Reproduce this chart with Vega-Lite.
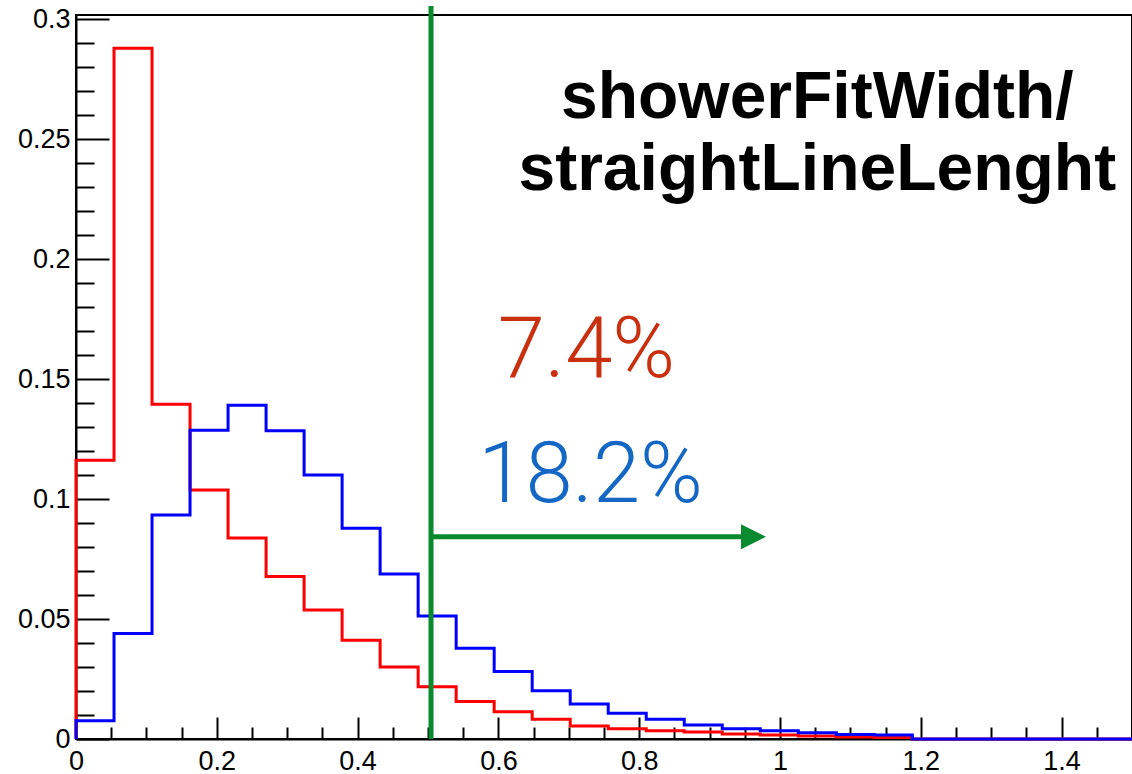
{
  "$schema": "https://vega.github.io/schema/vega-lite/v6.json",
  "width": 1056,
  "height": 724,
  "autosize": "none",
  "padding": {"left": 76, "top": 15, "right": 0, "bottom": 35},
  "background": "white",
  "view": {"stroke": "black", "strokeWidth": 2},
  "datasets": {
    "red": [
      {"i": 0, "x": 0, "y": 0},
      {"i": 1, "x": 0, "y": 0.1162},
      {"i": 2, "x": 0.054, "y": 0.2878},
      {"i": 3, "x": 0.108, "y": 0.1395},
      {"i": 4, "x": 0.162, "y": 0.1038},
      {"i": 5, "x": 0.216, "y": 0.0838},
      {"i": 6, "x": 0.27, "y": 0.0677},
      {"i": 7, "x": 0.324, "y": 0.0538},
      {"i": 8, "x": 0.378, "y": 0.0412},
      {"i": 9, "x": 0.432, "y": 0.0300},
      {"i": 10, "x": 0.486, "y": 0.0218},
      {"i": 11, "x": 0.54, "y": 0.0156},
      {"i": 12, "x": 0.594, "y": 0.0114},
      {"i": 13, "x": 0.648, "y": 0.0082},
      {"i": 14, "x": 0.702, "y": 0.0054},
      {"i": 15, "x": 0.756, "y": 0.0043},
      {"i": 16, "x": 0.81, "y": 0.0034},
      {"i": 17, "x": 0.864, "y": 0.0029},
      {"i": 18, "x": 0.918, "y": 0.0021},
      {"i": 19, "x": 0.972, "y": 0.0017},
      {"i": 20, "x": 1.026, "y": 0.0012},
      {"i": 21, "x": 1.08, "y": 0.0008},
      {"i": 22, "x": 1.134, "y": 0.0006},
      {"i": 23, "x": 1.188, "y": 0},
      {"i": 24, "x": 1.5, "y": 0}
    ],
    "blue": [
      {"i": 0, "x": 0, "y": 0},
      {"i": 1, "x": 0, "y": 0.0076},
      {"i": 2, "x": 0.054, "y": 0.0440},
      {"i": 3, "x": 0.108, "y": 0.0933},
      {"i": 4, "x": 0.162, "y": 0.1287},
      {"i": 5, "x": 0.216, "y": 0.1391},
      {"i": 6, "x": 0.27, "y": 0.1284},
      {"i": 7, "x": 0.324, "y": 0.1100},
      {"i": 8, "x": 0.378, "y": 0.0878},
      {"i": 9, "x": 0.432, "y": 0.0688},
      {"i": 10, "x": 0.486, "y": 0.0513},
      {"i": 11, "x": 0.54, "y": 0.0378},
      {"i": 12, "x": 0.594, "y": 0.0281},
      {"i": 13, "x": 0.648, "y": 0.0201},
      {"i": 14, "x": 0.702, "y": 0.0146},
      {"i": 15, "x": 0.756, "y": 0.0107},
      {"i": 16, "x": 0.81, "y": 0.0082},
      {"i": 17, "x": 0.864, "y": 0.0058},
      {"i": 18, "x": 0.918, "y": 0.0043},
      {"i": 19, "x": 0.972, "y": 0.0034},
      {"i": 20, "x": 1.026, "y": 0.0026},
      {"i": 21, "x": 1.08, "y": 0.0019},
      {"i": 22, "x": 1.134, "y": 0.0017},
      {"i": 23, "x": 1.188, "y": 0},
      {"i": 24, "x": 1.5, "y": 0}
    ],
    "cut": [{"x": 0.5043, "y": 0, "y2": 0.3055}],
    "arrow": [{"x": 0.5043, "x2": 0.955, "y": 0.0843, "tip": 0.9624}],
    "title": [
      {"x": 1.053, "y": 0.2588, "t": "showerFitWidth/"},
      {"x": 1.053, "y": 0.2288, "t": "straightLineLenght"}
    ],
    "pct": [
      {"x": 0.725, "y": 0.151, "t": "7.4%", "c": "red"},
      {"x": 0.731, "y": 0.0989, "t": "18.2%", "c": "blue"}
    ]
  },
  "encoding": {
    "x": {
      "field": "x", "type": "quantitative",
      "scale": {"domain": [0, 1.5], "nice": false, "zero": false},
      "axis": {
        "title": null,
        "grid": false,
        "values": [0,0.05,0.1,0.15,0.2,0.25,0.3,0.35,0.4,0.45,0.5,0.55,0.6,0.65,0.7,0.75,0.8,0.85,0.9,0.95,1,1.05,1.1,1.15,1.2,1.25,1.3,1.35,1.4,1.45,1.5],
        "labelExpr": "round(datum.value*100)%20==0 ? format(datum.value,'~g') : ''",
        "tickSize": {"condition": {"test": "round(datum.value*100)%20==0", "value": -22}, "value": -12},
        "labelPadding": 31,
        "labelFlush": false,
        "labelOverlap": false,
        "labelFont": "Liberation Sans",
        "labelFontSize": 27,
        "labelColor": "black",
        "domainColor": "black",
        "domainWidth": 2,
        "tickColor": "black",
        "tickWidth": 2
      }
    },
    "y": {
      "field": "y", "type": "quantitative",
      "scale": {"domain": [0, 0.3017], "nice": false, "zero": false},
      "axis": {
        "title": null,
        "grid": false,
        "values": [0,0.01,0.02,0.03,0.04,0.05,0.06,0.07,0.08,0.09,0.1,0.11,0.12,0.13,0.14,0.15,0.16,0.17,0.18,0.19,0.2,0.21,0.22,0.23,0.24,0.25,0.26,0.27,0.28,0.29,0.3],
        "labelExpr": "round(datum.value*100)%5==0 ? format(datum.value,'~g') : ''",
        "tickSize": {"condition": {"test": "round(datum.value*100)%5==0", "value": -33}, "value": -18},
        "labelPadding": 39,
        "labelFlush": false,
        "labelOverlap": false,
        "labelFont": "Liberation Sans",
        "labelFontSize": 27,
        "labelColor": "black",
        "domainColor": "black",
        "domainWidth": 2,
        "tickColor": "black",
        "tickWidth": 2
      }
    }
  },
  "layer": [
    {
      "data": {"name": "red"},
      "mark": {"type": "line", "interpolate": "step-after", "color": "#ff0000", "strokeWidth": 3},
      "encoding": {"order": {"field": "i", "type": "quantitative"}}
    },
    {
      "data": {"name": "blue"},
      "mark": {"type": "line", "interpolate": "step-after", "color": "#0000ff", "strokeWidth": 3},
      "encoding": {"order": {"field": "i", "type": "quantitative"}}
    },
    {
      "data": {"name": "cut"},
      "mark": {"type": "rule", "color": "#0a8a2e", "strokeWidth": 5},
      "encoding": {"y2": {"field": "y2"}}
    },
    {
      "data": {"name": "arrow"},
      "mark": {"type": "rule", "color": "#0a8a2e", "strokeWidth": 5},
      "encoding": {"x2": {"field": "x2"}}
    },
    {
      "data": {"name": "arrow"},
      "mark": {"type": "point", "shape": "M-1,-1L1,0L-1,1Z", "filled": true, "color": "#0a8a2e", "opacity": 1, "size": 625},
      "encoding": {"x": {"field": "tip", "type": "quantitative"}}
    },
    {
      "data": {"name": "title"},
      "mark": {"type": "text", "font": "Liberation Sans", "fontWeight": "bold", "fontSize": 66, "align": "center", "baseline": "alphabetic", "color": "black"},
      "encoding": {"text": {"field": "t"}}
    },
    {
      "data": {"name": "pct"},
      "mark": {"type": "text", "font": "Roboto", "fontWeight": 300, "fontSize": 85, "align": "center", "baseline": "alphabetic"},
      "encoding": {
        "text": {"field": "t"},
        "color": {"field": "c", "type": "nominal", "scale": {"domain": ["red", "blue"], "range": ["#c9300f", "#1467c4"]}, "legend": null}
      }
    }
  ]
}
